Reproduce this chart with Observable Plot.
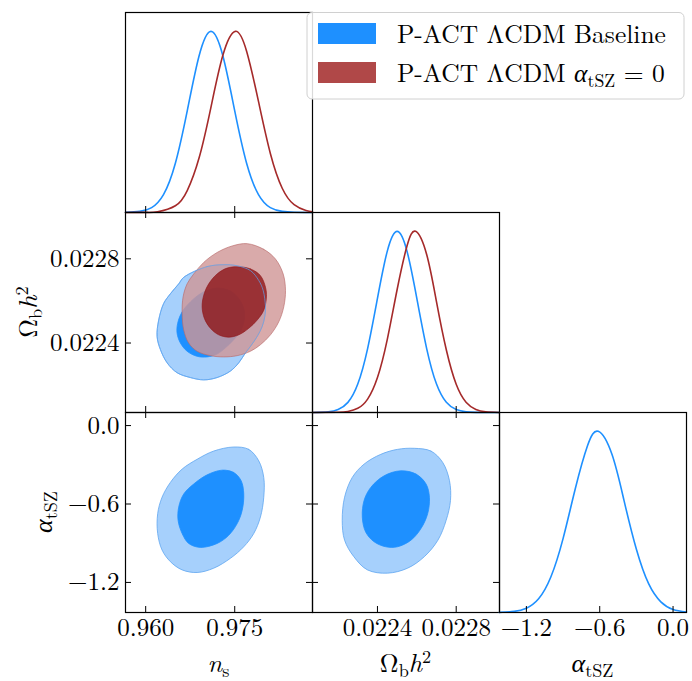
<!DOCTYPE html>
<html><head><meta charset="utf-8">
<script src="https://cdn.jsdelivr.net/npm/d3@7"></script>
<script src="https://cdn.jsdelivr.net/npm/@observablehq/plot@0.6"></script>
<style>
body{margin:0;background:#fff;}
#fig{position:relative;width:692px;height:681px;}
#fig svg{position:absolute;overflow:visible;background:none !important;max-width:none !important;}
</style></head><body><div id="fig"></div>
<script>
// ---------- data ----------
const seriesNames = ["P-ACT ΛCDM Baseline", "P-ACT ΛCDM α_tSZ = 0"];
const nsTicks = [0.960, 0.975];
const nsTickLabels = ["0.960", "0.975"];
const obTicks = [0.0224, 0.0228];
const obTickLabels = ["0.0224", "0.0228"];
const atTicks = [-1.2, -0.6, 0.0];
const atTickLabels = ["−1.2", "−0.6", "0.0"];
const nsDomain = [0.9566, 0.9881];
const obDomain = [0.02207, 0.02302];
const atDomainX = [-1.42, 0.11];
const atDomainY = [-1.43, 0.10];
const pdfDomain = [0, 1.104];

// 1D marginals
const nsBlueX = [0.9566,0.9590,0.9610,0.9630,0.9650,0.9670,0.9690,0.9710,0.9730,0.9750,0.9770,0.9790,0.9810,0.9830,0.9850,0.9881];
const nsBlueP = [0.001,0.006,0.027,0.099,0.272,0.561,0.865,1.0,0.865,0.561,0.272,0.099,0.027,0.006,0.001,0.0];
const nsRedX = [0.9566,0.9600,0.9620,0.9650,0.9670,0.9690,0.9710,0.9730,0.9751,0.9770,0.9790,0.9810,0.9830,0.9850,0.9870,0.9881];
const nsRedP = [0.0,0.0006,0.004,0.037,0.121,0.302,0.582,0.868,1.0,0.890,0.613,0.326,0.134,0.043,0.011,0.004];
const obBlueX = [0.02207,0.02215,0.02220,0.02225,0.02230,0.02235,0.02240,0.02245,0.02250,0.02255,0.02260,0.02265,0.02270,0.02275,0.02280,0.02285,0.02290,0.02302];
const obBlueP = [0.0002,0.0035,0.016,0.056,0.157,0.353,0.630,0.891,1.0,0.891,0.630,0.353,0.157,0.056,0.016,0.0035,0.0006,0.0];
const obRedX = [0.02207,0.02220,0.02225,0.02230,0.02235,0.02240,0.02245,0.02250,0.02255,0.022594,0.02265,0.02270,0.02275,0.02280,0.02285,0.02290,0.02295,0.02302];
const obRedP = [0.0,0.0011,0.0056,0.023,0.074,0.193,0.404,0.679,0.919,1.0,0.872,0.611,0.345,0.156,0.057,0.017,0.004,0.0004];
const atBlueX = [-1.42,-1.30,-1.20,-1.10,-1.00,-0.90,-0.80,-0.70,-0.612,-0.50,-0.40,-0.30,-0.20,-0.10,0.00,0.11];
const atBlueP = [0.0008,0.006,0.024,0.076,0.196,0.408,0.683,0.920,1.0,0.873,0.615,0.349,0.159,0.059,0.017,0.003];

// 2D contours (outer = 95%, inner = 68%), [x, y]
const blueNsOb95 = [[0.96641,0.022712],[0.97035,0.022763],[0.97315,0.022772],[0.97541,0.022767],[0.97765,0.022744],[0.97905,0.022697],[0.97979,0.022650],[0.98018,0.022572],[0.98006,0.022525],[0.97962,0.022478],[0.97878,0.022431],[0.97765,0.022384],[0.97680,0.022353],[0.97568,0.022306],[0.97428,0.022267],[0.97203,0.022236],[0.96978,0.022225],[0.96753,0.022236],[0.96529,0.022259],[0.96361,0.022306],[0.96248,0.022369],[0.96192,0.022431],[0.96219,0.022509],[0.96303,0.022588],[0.96416,0.022634],[0.96556,0.022681]];
const blueNsOb68 = [[0.97230,0.022661],[0.97428,0.022647],[0.97568,0.022611],[0.97652,0.022564],[0.97664,0.022517],[0.97608,0.022462],[0.97483,0.022416],[0.97343,0.022377],[0.97203,0.022348],[0.97035,0.022334],[0.96866,0.022337],[0.96698,0.022361],[0.96585,0.022400],[0.96529,0.022447],[0.96539,0.022494],[0.96614,0.022548],[0.96753,0.022595],[0.96922,0.022634],[0.97091,0.022655]];
const redNsOb95 = [[0.97709,0.022872],[0.97989,0.022845],[0.98186,0.022799],[0.98316,0.022728],[0.98355,0.022650],[0.98326,0.022572],[0.98242,0.022501],[0.98102,0.022439],[0.97933,0.022392],[0.97765,0.022361],[0.97541,0.022340],[0.97315,0.022334],[0.97091,0.022340],[0.96866,0.022361],[0.96725,0.022400],[0.96641,0.022462],[0.96614,0.022541],[0.96630,0.022619],[0.96698,0.022681],[0.96809,0.022728],[0.96978,0.022783],[0.97203,0.022830],[0.97456,0.022861]];
const redNsOb68 = [[0.97568,0.022762],[0.97765,0.022752],[0.97933,0.022720],[0.98018,0.022665],[0.98034,0.022619],[0.97989,0.022556],[0.97878,0.022509],[0.97736,0.022470],[0.97568,0.022439],[0.97399,0.022428],[0.97230,0.022439],[0.97091,0.022470],[0.96989,0.022517],[0.96951,0.022572],[0.96978,0.022627],[0.97062,0.022681],[0.97203,0.022728],[0.97372,0.022756]];
const blueNsAt95 = [[0.97483,-0.164],[0.97736,-0.182],[0.97905,-0.270],[0.97989,-0.397],[0.97989,-0.548],[0.97933,-0.700],[0.97820,-0.826],[0.97652,-0.927],[0.97428,-1.015],[0.97146,-1.091],[0.96866,-1.124],[0.96614,-1.104],[0.96416,-1.041],[0.96276,-0.952],[0.96202,-0.826],[0.96202,-0.674],[0.96276,-0.548],[0.96416,-0.435],[0.96614,-0.333],[0.96866,-0.258],[0.97146,-0.195]];
const blueNsAt68 = [[0.97288,-0.341],[0.97483,-0.359],[0.97608,-0.422],[0.97652,-0.523],[0.97625,-0.649],[0.97541,-0.750],[0.97399,-0.839],[0.97203,-0.902],[0.96922,-0.932],[0.96725,-0.902],[0.96614,-0.826],[0.96546,-0.725],[0.96556,-0.624],[0.96641,-0.523],[0.96809,-0.447],[0.97035,-0.377]];
const blueObAt95 = [[0.022587,-0.174],[0.022672,-0.195],[0.022732,-0.283],[0.022766,-0.422],[0.022771,-0.573],[0.022749,-0.725],[0.022707,-0.877],[0.022638,-1.003],[0.022553,-1.091],[0.022451,-1.129],[0.022349,-1.104],[0.022280,-1.003],[0.022233,-0.877],[0.022221,-0.725],[0.022233,-0.548],[0.022272,-0.397],[0.022332,-0.295],[0.022417,-0.220],[0.022502,-0.182]];
const blueObAt68 = [[0.022519,-0.346],[0.022596,-0.371],[0.022647,-0.447],[0.022664,-0.548],[0.022655,-0.674],[0.022621,-0.788],[0.022570,-0.877],[0.022502,-0.927],[0.022442,-0.927],[0.022383,-0.889],[0.022340,-0.814],[0.022323,-0.700],[0.022332,-0.573],[0.022366,-0.473],[0.022434,-0.384]];

// ---------- font: pick first installed serif face ----------
function pickFont(cands) {
  const ctx = document.createElement("canvas").getContext("2d");
  const probe = "0.0228 ΛCDM Baseline αΩ mwi";
  for (const base of ["monospace", "sans-serif"]) {
    ctx.font = `40px ${base}`;
    const w0 = ctx.measureText(probe).width;
    for (const c of cands) {
      ctx.font = `40px "${c}", ${base}`;
      if (Math.abs(ctx.measureText(probe).width - w0) > 0.5) {
        const other = base === "monospace" ? "sans-serif" : "monospace";
        ctx.font = `40px ${other}`; const w1 = ctx.measureText(probe).width;
        ctx.font = `40px "${c}", ${other}`;
        if (Math.abs(ctx.measureText(probe).width - w1) > 0.5) return `"${c}"`;
      }
    }
  }
  return null;
}
const serifFace = pickFont(["Latin Modern Roman", "CMU Serif", "Liberation Serif", "DejaVu Serif", "Noto Serif",
  "Tinos", "Nimbus Roman", "Nimbus Roman No9 L", "FreeSerif", "Times New Roman", "Times", "Georgia", "Bitstream Vera Serif"]);
const FONT = serifFace ? `${serifFace}, serif` : '"Liberation Sans", "DejaVu Sans", sans-serif';

const BLUE = "#1e90ff", BLUE_LIGHT = "#a6d0fc", BLUE_EDGE = "#5fa6f0";
const RED = "#a52a2a", RED_IN = "#8f1518", RED_OUT = "#cf9595", RED_EDGE = "#b86a6a";
const W = 187, H = 200, TL = 6;
const colLeft = [125, 312, 499], rowTop = [12, 212, 412];
const fig = document.getElementById("fig");
fig.style.fontFamily = FONT;

function curve1D(xs, ps, color) {
  return Plot.line(xs, {x: xs, y: ps, stroke: color, strokeWidth: 1.6, curve: "natural"});
}
function contour(pts, fill, stroke, opacity) {
  return Plot.line(pts, {x: d => d[0], y: d => d[1], curve: "catmull-rom-closed",
    fill, fillOpacity: opacity, stroke, strokeWidth: 0.8, strokeOpacity: opacity});
}
function outline(pts, stroke, opacity) {
  return Plot.line(pts, {x: d => d[0], y: d => d[1], curve: "catmull-rom-closed",
    fill: "none", stroke, strokeWidth: 0.9, strokeOpacity: opacity});
}
function panel(col, row, o) {
  const m = [...o.marks, Plot.frame({stroke: "black", strokeWidth: 1.2})];
  const tk = {stroke: "black", strokeWidth: 1};
  m.push(Plot.tickX(o.xTicks, {x: d => d, insetTop: H - TL, ...tk}));
  if (o.yTicks) {
    m.push(Plot.tickX(o.xTicks, {x: d => d, insetBottom: H - TL, ...tk}));
    m.push(Plot.tickY(o.yTicks, {y: d => d, insetRight: W - TL, ...tk}));
    m.push(Plot.tickY(o.yTicks, {y: d => d, insetLeft: W - TL, ...tk}));
  }
  if (o.xLabels) m.push(Plot.axisX({ticks: o.xTicks, tickSize: 0, tickPadding: 6, label: null,
    tickFormat: d => o.xLabels[o.xTicks.indexOf(d)], fontSize: 25, fontFamily: FONT, fill: "black"}));
  if (o.yLabels) m.push(Plot.axisY({ticks: o.yTicks, tickSize: 0, tickPadding: 6, label: null,
    tickFormat: d => o.yLabels[o.yTicks.indexOf(d)], fontSize: 25, fontFamily: FONT, fill: "black"}));
  const svg = Plot.plot({
    width: W, height: H, margin: 0,
    x: {domain: o.xDom, axis: o.xLabels ? undefined : null},
    y: {domain: o.yDom, axis: o.yLabels ? undefined : null},
    style: {background: "none", overflow: "visible", fontFamily: FONT},
    marks: m
  });
  svg.style.left = colLeft[col] + "px";
  svg.style.top = rowTop[row] + "px";
  fig.appendChild(svg);
}

// row 0
panel(0, 0, {xDom: nsDomain, yDom: pdfDomain, xTicks: nsTicks,
  marks: [curve1D(nsBlueX, nsBlueP, BLUE), curve1D(nsRedX, nsRedP, RED)]});
// row 1
panel(0, 1, {xDom: nsDomain, yDom: obDomain, xTicks: nsTicks, yTicks: obTicks, yLabels: obTickLabels,
  marks: [contour(blueNsOb95, BLUE_LIGHT, BLUE_EDGE, 1), contour(blueNsOb68, BLUE, BLUE, 1),
          contour(redNsOb95, RED_OUT, RED_EDGE, 0.8), contour(redNsOb68, RED_IN, RED_IN, 0.8),
          outline(blueNsOb95, BLUE_EDGE, 0.75)]});
panel(1, 1, {xDom: obDomain, yDom: pdfDomain, xTicks: obTicks,
  marks: [curve1D(obBlueX, obBlueP, BLUE), curve1D(obRedX, obRedP, RED)]});
// row 2
panel(0, 2, {xDom: nsDomain, yDom: atDomainY, xTicks: nsTicks, yTicks: atTicks,
  xLabels: nsTickLabels, yLabels: atTickLabels,
  marks: [contour(blueNsAt95, BLUE_LIGHT, BLUE_EDGE, 1), contour(blueNsAt68, BLUE, BLUE, 1)]});
panel(1, 2, {xDom: obDomain, yDom: atDomainY, xTicks: obTicks, yTicks: atTicks, xLabels: obTickLabels,
  marks: [contour(blueObAt95, BLUE_LIGHT, BLUE_EDGE, 1), contour(blueObAt68, BLUE, BLUE, 1)]});
panel(2, 2, {xDom: atDomainX, yDom: pdfDomain, xTicks: atTicks, xLabels: atTickLabels,
  marks: [curve1D(atBlueX, atBlueP, BLUE)]});

// ---------- overlay: axis titles and legend ----------
const labelNs = [{t: "n", i: true}, {t: "s", sub: true}];
const labelOb = [{t: "Ω"}, {t: "b", sub: true}, {t: "h", i: true}, {t: "2", sup: true}];
const labelAt = [{t: "α", i: true}, {t: "tSZ", sub: true}];
const legendLabels = [
  [{t: "P-ACT ΛCDM Baseline"}],
  [{t: "P-ACT ΛCDM "}, {t: "α", i: true}, {t: "tSZ", sub: true}, {t: " = 0"}]
];
const legendColors = [BLUE, "#b04848"];

const ov = d3.select(fig).append("svg").attr("width", 692).attr("height", 681)
  .style("left", "0px").style("top", "0px").style("pointer-events", "none")
  .style("font-family", FONT);

function rich(g, parts, size) {
  const t = g.append("text").attr("font-size", size).attr("fill", "black").style("font-family", FONT);
  let shift = 0;
  for (const p of parts) {
    const s = t.append("tspan").text(p.t);
    if (p.i) s.attr("font-style", "italic");
    const target = p.sub ? 0.18 * size : p.sup ? -0.35 * size : 0;
    s.attr("dy", target - shift);
    shift = target;
    if (p.sub || p.sup) s.attr("font-size", size * 0.7);
  }
  return t;
}
const LS = 26;
rich(ov, labelNs, LS).attr("x", colLeft[0] + W / 2).attr("y", 672).attr("text-anchor", "middle");
rich(ov, labelOb, LS).attr("x", colLeft[1] + W / 2).attr("y", 672).attr("text-anchor", "middle");
rich(ov, labelAt, LS).attr("x", colLeft[2] + W / 2).attr("y", 672).attr("text-anchor", "middle");
rich(ov, labelOb, LS).attr("text-anchor", "middle")
  .attr("transform", `translate(37,${rowTop[1] + H / 2}) rotate(-90)`);
rich(ov, labelAt, LS).attr("text-anchor", "middle")
  .attr("transform", `translate(52,${rowTop[2] + H / 2}) rotate(-90)`);

// legend
const lg = ov.append("g");
lg.append("rect").attr("x", 307).attr("y", 12.5).attr("width", 377).attr("height", 86.5)
  .attr("rx", 5).attr("fill", "white").attr("fill-opacity", 0.85)
  .attr("stroke", "#d0d0d0").attr("stroke-width", 1);
legendLabels.forEach((parts, i) => {
  const y0 = 23 + i * 39;
  lg.append("rect").attr("x", 318).attr("y", y0).attr("width", 58).attr("height", 21)
    .attr("fill", legendColors[i]);
  rich(lg, parts, 25.5).attr("x", 397).attr("y", y0 + 20);
});
</script></body></html>
